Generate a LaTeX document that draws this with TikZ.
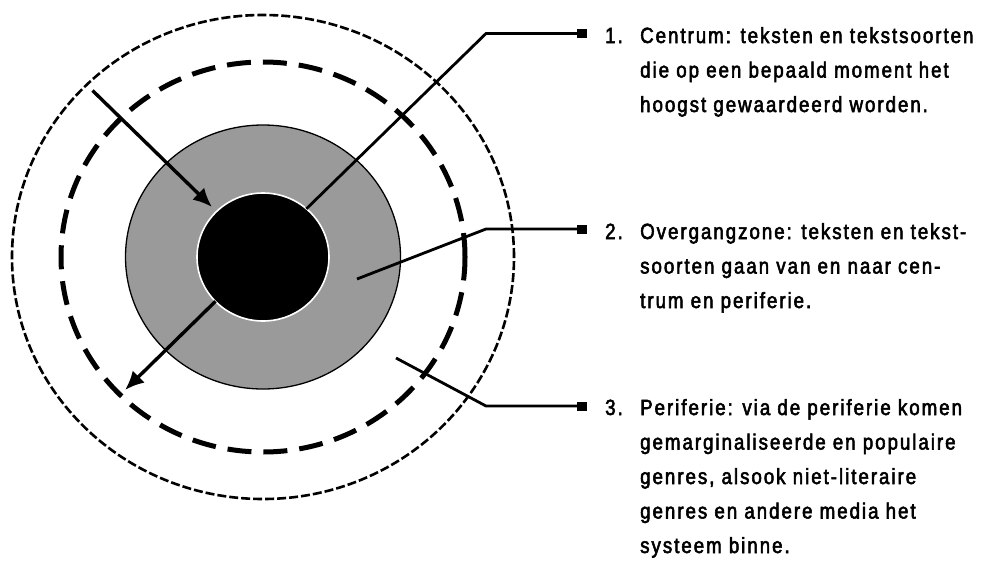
\documentclass[tikz,border=0pt]{standalone}
\usepackage{fontspec}
\setmainfont[FakeStretch=0.85,LetterSpace=9,FakeBold=2.5]{Liberation Sans}
\usetikzlibrary{shapes.geometric,arrows.meta}
\definecolor{ringgray}{HTML}{9A9A9A}
\tikzset{
  ring/.style={ellipse, inner sep=0pt, outer sep=0pt},
  leader/.style={line width=2.8pt, line join=miter},
  arrowline/.style={line width=3.4pt, -{Latex[length=19pt,width=17pt]}},
  marker/.style={fill=black, minimum width=10pt, minimum height=9pt, inner sep=0pt, outer sep=0pt},
  numtext/.style={anchor=base west, inner sep=0pt, font=\fontsize{22pt}{34.5pt}\selectfont},
  itemtext/.style={anchor=base west, inner sep=0pt, align=left, font=\fontsize{22pt}{34.5pt}\selectfont},
}
\begin{document}
\begin{tikzpicture}[x=1pt,y=-1pt]
\useasboundingbox[fill=white] (0,0) rectangle (990,560);
% rings
\node[ring, draw=black, line width=2.6pt, dash pattern=on 9pt off 3pt,
      minimum width=502pt, minimum height=484pt] (outer) at (263,257) {};
\node[ring, draw=black, line width=5pt, dash pattern=on 24pt off 12pt,
      minimum width=404pt, minimum height=390pt] (middle) at (263,257) {};
\node[ring, draw=black, line width=1.3pt, fill=ringgray,
      minimum width=275pt, minimum height=264pt] (gray) at (263,257) {};
\node[ring, draw=white, line width=1.6pt, fill=black,
      minimum width=132pt, minimum height=128pt] (core) at (263,257) {};
% arrows
\coordinate (a1s) at (92.5,90.5);
\coordinate (a1e) at (212,207);
\draw[arrowline] (a1s) -- (a1e);
\coordinate (a2e) at (125,390);
\draw[arrowline] (core.223) -- (a2e);
% markers
\node[marker] (m1) at (582,33.5) {};
\node[marker] (m2) at (582,229) {};
\node[marker] (m3) at (582,406) {};
% leaders
\coordinate (b1) at (486,33.5);
\coordinate (b2) at (486,229);
\coordinate (b3) at (486,406);
\coordinate (s2) at (357,279);
\coordinate (s3) at (396,358);
\draw[leader] (core.48) -- (b1) -- (m1.center);
\draw[leader] (s2) -- (b2) -- (m2.center);
\draw[leader] (s3) -- (b3) -- (m3.center);
% texts (base anchor = baseline of last line)
\node[numtext] (n1) at (605,43) {1.};
\node[itemtext] (t1) at (640,112) {Centrum: teksten en tekstsoorten\\die op een bepaald moment het\\hoogst gewaardeerd worden.};
\node[numtext] (n2) at (605,239) {2.};
\node[itemtext] (t2) at (640,308) {Overgangzone: teksten en tekst-\\soorten gaan van en naar cen-\\trum en periferie.};
\node[numtext] (n3) at (605,415) {3.};
\node[itemtext] (t3) at (640,553) {Periferie: via de periferie komen\\gemarginaliseerde en populaire\\genres, alsook niet-literaire\\genres en andere media het\\systeem binne.};
\end{tikzpicture}
\end{document}
